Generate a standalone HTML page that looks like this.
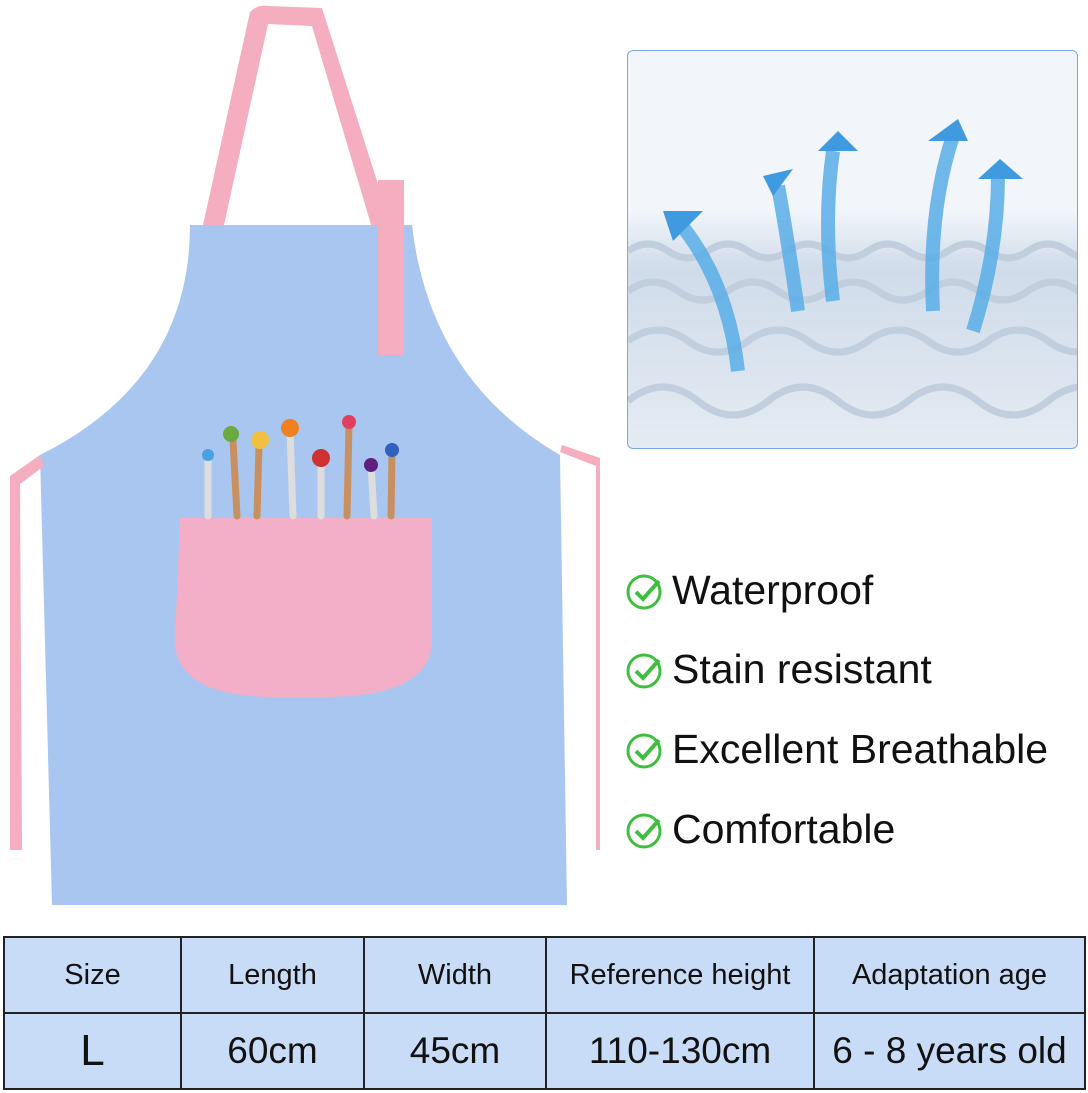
<!DOCTYPE html>
<html><head><style>
body{margin:0;width:1088px;height:1093px;background:#fff;position:relative;overflow:hidden;font-family:"Liberation Sans",sans-serif}
.chk{position:absolute;left:624px;font-size:41px;color:#111;display:flex;align-items:center}
.chk svg{margin-right:8px}
table{position:absolute;left:3px;top:936px;border-collapse:collapse;width:1083px}
td{border:2px solid #222;background:#c9dcf7;text-align:center;color:#111;padding:0;font-family:"Liberation Sans Narrow","Liberation Sans",sans-serif}
tr.h td{height:74px;font-size:29px}
tr.d td{height:74px;font-size:37px}
</style></head><body>
<svg width="600" height="920" style="position:absolute;left:0;top:0">
<path d="M203 225 L250 12 Q258 4 268 6 L322 8 L392 228 L372 228 L312 26 L268 24 L224 225 Z" fill="#f4aec0"/>
<path d="M190 225 L412 225 Q430 380 560 455 L567 905 L52 905 L40 455 Q190 380 190 225 Z" fill="#a9c6f0"/>
<rect x="378" y="180" width="26" height="175" fill="#f4aec0"/>
<path d="M40 455 L10 476 L10 850 L22 850 L20 484 L44 466 Z" fill="#f4aec0"/>
<path d="M560 452 L596 466 L596 850 L608 850 L606 460 L562 445 Z" fill="#f4aec0"/>
<path d="M180 518 L432 518 L432 640 Q432 695 330 697 L270 697 Q175 695 175 640 Z" fill="#f3afc8"/>
<g stroke-width="7" stroke-linecap="round">
<line x1="208" y1="460" x2="208" y2="516" stroke="#ddd"/>
<line x1="233" y1="440" x2="237" y2="516" stroke="#c89060"/>
<line x1="259" y1="445" x2="257" y2="516" stroke="#c89060"/>
<line x1="290" y1="430" x2="293" y2="516" stroke="#ddd"/>
<line x1="321" y1="455" x2="321" y2="516" stroke="#ddd"/>
<line x1="349" y1="425" x2="347" y2="516" stroke="#c89060"/>
<line x1="371" y1="465" x2="374" y2="516" stroke="#ddd"/>
<line x1="392" y1="450" x2="391" y2="516" stroke="#c89060"/>
</g>
<circle cx="208" cy="455" r="6" fill="#4aa0e0"/><circle cx="231" cy="434" r="8" fill="#6aaa40"/>
<circle cx="260" cy="440" r="9" fill="#f0c040"/><circle cx="290" cy="428" r="9" fill="#f08020"/>
<circle cx="321" cy="458" r="9" fill="#d03030"/><circle cx="349" cy="422" r="7" fill="#e04060"/>
<circle cx="371" cy="465" r="7" fill="#602080"/><circle cx="392" cy="450" r="7" fill="#3060c0"/>
</svg>
<div style="position:absolute;left:627px;top:50px;width:449px;height:397px;border:1.5px solid #7aa8e0;border-radius:6px;overflow:hidden;background:linear-gradient(#f2f6fb 0%,#f2f6fb 40%,#d0dcea 55%,#e4ebf3 100%)">
<svg width="449" height="397">
<g stroke="#c0cedd" stroke-width="7" fill="none">
<path d="M0 200 q20 -14 40 0 t40 0 t40 0 t40 0 t40 0 t40 0 t40 0 t40 0 t40 0 t40 0 t40 0 t40 0"/>
<path d="M0 240 q25 -18 50 0 t50 0 t50 0 t50 0 t50 0 t50 0 t50 0 t50 0 t50 0 t50 0"/>
<path d="M0 290 q30 -22 60 0 t60 0 t60 0 t60 0 t60 0 t60 0 t60 0 t60 0"/>
<path d="M0 350 q35 -28 70 0 t70 0 t70 0 t70 0 t70 0 t70 0 t70 0"/>
</g>
<g stroke="#5aaee8" stroke-width="14" fill="none" opacity=".85">
<path d="M110 320 Q100 230 50 170"/><path d="M170 260 Q160 190 150 135"/>
<path d="M205 250 Q195 170 205 100"/><path d="M305 260 Q300 160 325 85"/><path d="M345 280 Q370 200 370 125"/>
</g>
<g fill="#3f9ae0">
<polygon points="35,160 75,160 45,190"/><polygon points="135,125 165,118 145,145"/>
<polygon points="190,100 230,100 210,80"/><polygon points="300,90 340,90 330,68"/><polygon points="350,128 395,128 372,108"/>
</g>
</svg></div>
<div class="chk" style="top:567px"><svg width="40" height="40" viewBox="0 0 40 40"><circle cx="20" cy="21" r="16" fill="none" stroke="#3fbf3f" stroke-width="3"/><path d="M12 21 l7 7 l16 -18" fill="none" stroke="#3fbf3f" stroke-width="4"/></svg>Waterproof</div>
<div class="chk" style="top:646px"><svg width="40" height="40" viewBox="0 0 40 40"><circle cx="20" cy="21" r="16" fill="none" stroke="#3fbf3f" stroke-width="3"/><path d="M12 21 l7 7 l16 -18" fill="none" stroke="#3fbf3f" stroke-width="4"/></svg>Stain resistant</div>
<div class="chk" style="top:726px"><svg width="40" height="40" viewBox="0 0 40 40"><circle cx="20" cy="21" r="16" fill="none" stroke="#3fbf3f" stroke-width="3"/><path d="M12 21 l7 7 l16 -18" fill="none" stroke="#3fbf3f" stroke-width="4"/></svg>Excellent Breathable</div>
<div class="chk" style="top:806px"><svg width="40" height="40" viewBox="0 0 40 40"><circle cx="20" cy="21" r="16" fill="none" stroke="#3fbf3f" stroke-width="3"/><path d="M12 21 l7 7 l16 -18" fill="none" stroke="#3fbf3f" stroke-width="4"/></svg>Comfortable</div>
<table>
<tr class="h"><td style="width:175px">Size</td><td style="width:181px">Length</td><td style="width:180px">Width</td><td style="width:266px">Reference height</td><td>Adaptation age</td></tr>
<tr class="d"><td style="font-size:44px">L</td><td>60cm</td><td>45cm</td><td>110-130cm</td><td>6 - 8 years old</td></tr>
</table>
</body></html>
